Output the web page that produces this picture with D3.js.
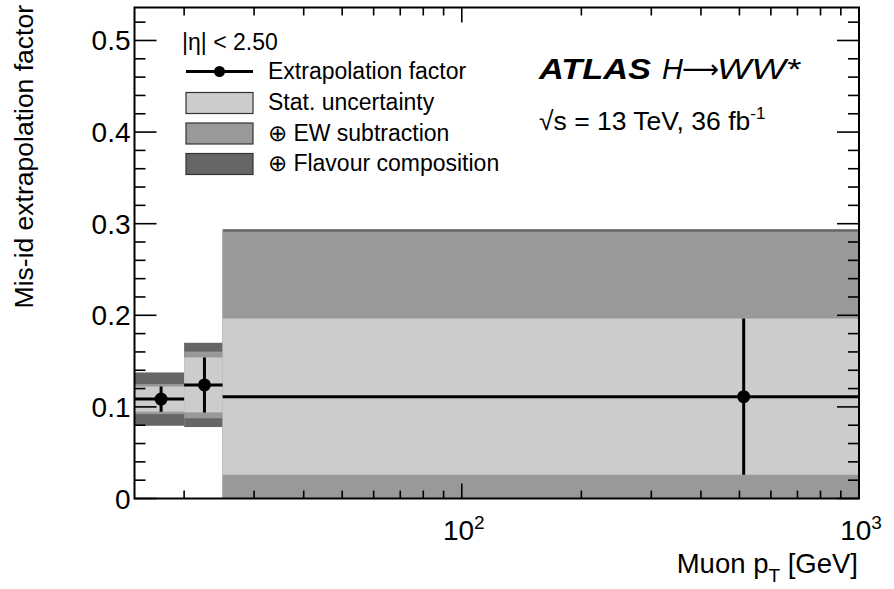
<!DOCTYPE html>
<html><head><meta charset="utf-8">
<script src="https://cdn.jsdelivr.net/npm/d3@7"></script>
<style>body{margin:0;background:#fff} text{font-family:"Liberation Sans",Arial,Helvetica,sans-serif;fill:#000}</style>
</head><body><svg id="c" width="894" height="589"></svg>
<script>
// ---- data ----
const binEdges = [15, 20, 25, 1000];
const binCenters = [17.5, 22.5, 512.5];
const factor = [0.1085, 0.124, 0.1112];
const statErr = [0.0137, 0.030, 0.0853];
const ewErr = [0.0164, 0.0364, 0.180];
const flavErr = [0.0291, 0.046, 0.1828];
const yTicks = [0, 0.1, 0.2, 0.3, 0.4, 0.5];
const xMajor = [100, 1000];
const xTickExp = ["2", "3"];
const legendLabels = ["Extrapolation factor", "Stat. uncertainty", "\u2295 EW subtraction", "\u2295 Flavour composition"];
const colors = {stat: "#cccccc", ew: "#999999", flav: "#666666"};

const L = 134.5, R = 859, T = 7.5, B = 498.5;
const svg = d3.select("#c");
const x = d3.scaleLog().domain([15, 1000]).range([L, R]);
const y = d3.scaleLinear().domain([0, 0.536]).range([B, T]);

svg.append("defs").append("clipPath").attr("id", "pc")
  .append("rect").attr("x", L).attr("y", T).attr("width", R - L).attr("height", B - T);
const g = svg.append("g").attr("clip-path", "url(#pc)");

const bins = factor.map((f, i) => ({i, lo: binEdges[i], hi: binEdges[i + 1], c: binCenters[i], f,
  s: statErr[i], e: ewErr[i], fl: flavErr[i]}));

[["fl", colors.flav], ["e", colors.ew], ["s", colors.stat]].forEach(([k, col]) => {
  g.selectAll(null).data(bins).enter().append("rect")
    .attr("x", d => x(d.lo)).attr("width", d => x(d.hi) - x(d.lo))
    .attr("y", d => y(d.f + d[k])).attr("height", d => y(d.f - d[k]) - y(d.f + d[k]))
    .attr("fill", col);
});

// error bars
g.selectAll(null).data(bins).enter().append("line")
  .attr("x1", d => x(d.lo)).attr("x2", d => x(d.hi))
  .attr("y1", d => y(d.f)).attr("y2", d => y(d.f))
  .attr("stroke", "#000").attr("stroke-width", 3);
g.selectAll(null).data(bins).enter().append("line")
  .attr("x1", d => x(d.c)).attr("x2", d => x(d.c))
  .attr("y1", d => y(d.f + d.s)).attr("y2", d => y(d.f - d.s))
  .attr("stroke", "#000").attr("stroke-width", 3);
g.selectAll(null).data(bins).enter().append("circle")
  .attr("cx", d => x(d.c)).attr("cy", d => y(d.f)).attr("r", 6.5).attr("fill", "#000");

// ticks
const ax = svg.append("g").attr("stroke", "#000").attr("stroke-width", 1.6);
const yMinor = d3.range(0, 0.536, 0.02).filter(v => Math.abs(v * 10 - Math.round(v * 10)) > 1e-6);
yTicks.forEach(v => {
  ax.append("line").attr("x1", L).attr("x2", L + 22).attr("y1", y(v)).attr("y2", y(v));
  ax.append("line").attr("x1", R).attr("x2", R - 22).attr("y1", y(v)).attr("y2", y(v));
});
yMinor.forEach(v => {
  ax.append("line").attr("x1", L).attr("x2", L + 11).attr("y1", y(v)).attr("y2", y(v));
  ax.append("line").attr("x1", R).attr("x2", R - 11).attr("y1", y(v)).attr("y2", y(v));
});
const xMinor = d3.range(20, 100, 10).concat(d3.range(200, 1000, 100));
xMinor.forEach(v => {
  ax.append("line").attr("x1", x(v)).attr("x2", x(v)).attr("y1", B).attr("y2", B - 8);
  ax.append("line").attr("x1", x(v)).attr("x2", x(v)).attr("y1", T).attr("y2", T + 8);
});
xMajor.forEach(v => {
  ax.append("line").attr("x1", x(v)).attr("x2", x(v)).attr("y1", B).attr("y2", B - 15);
  ax.append("line").attr("x1", x(v)).attr("x2", x(v)).attr("y1", T).attr("y2", T + 15);
});
svg.append("rect").attr("x", L).attr("y", T).attr("width", R - L).attr("height", B - T)
  .attr("fill", "none").attr("stroke", "#000").attr("stroke-width", 2);

// tick labels
svg.selectAll(null).data(yTicks).enter().append("text")
  .attr("x", L - 4).attr("y", d => y(d) + 10).attr("text-anchor", "end")
  .attr("font-size", 28).text(d => d === 0 ? "0" : d3.format(".1f")(d));
xMajor.forEach((v, i) => {
  const t = svg.append("text").attr("x", x(v) + 2).attr("y", 540).attr("text-anchor", "middle").attr("font-size", 28);
  t.append("tspan").text("10");
  t.append("tspan").attr("dy", -11).attr("font-size", 19).text(xTickExp[i]);
});

// axis titles
const xt = svg.append("text").attr("x", R - 1).attr("y", 573).attr("text-anchor", "end").attr("font-size", 27.5);
xt.append("tspan").text("Muon p");
xt.append("tspan").attr("dy", 9).attr("font-size", 19).text("T");
xt.append("tspan").attr("dy", -9).text(" [GeV]");
svg.append("text").attr("transform", "translate(33,5) rotate(-90)").attr("text-anchor", "end")
  .attr("font-size", 26.5).text("Mis-id extrapolation factor");

// legend
svg.append("text").attr("x", 182).attr("y", 50).attr("font-size", 23).text("|\u03B7| < 2.50");
const lg = svg.append("g");
lg.append("line").attr("x1", 186).attr("x2", 253).attr("y1", 71.5).attr("y2", 71.5).attr("stroke", "#000").attr("stroke-width", 3);
lg.append("circle").attr("cx", 219.5).attr("cy", 71.5).attr("r", 5.5).attr("fill", "#000");
[colors.stat, colors.ew, colors.flav].forEach((c, i) => {
  lg.append("rect").attr("x", 186).attr("y", 92.5 + i * 30.5).attr("width", 67).attr("height", 21)
    .attr("fill", c).attr("stroke", "#333").attr("stroke-width", 1.2);
});
legendLabels.forEach((t, i) => {
  lg.append("text").attr("x", 268).attr("y", 79 + i * 30.8).attr("font-size", 23).text(t);
});

// ATLAS label
svg.append("text").attr("x", 539).attr("y", 78.5).attr("font-size", 30).attr("font-weight", "bold")
  .attr("font-style", "italic").attr("textLength", 112).attr("lengthAdjust", "spacingAndGlyphs").text("ATLAS");
svg.append("text").attr("x", 662).attr("y", 78.5).attr("font-size", 29)
  .attr("font-style", "italic").text("H");
svg.append("text").attr("x", 682).attr("y", 78).attr("font-size", 26)
  .style("font-family", "'DejaVu Sans'")
  .attr("textLength", 37).attr("lengthAdjust", "spacingAndGlyphs").text("\u27F6");
svg.append("text").attr("x", 717).attr("y", 78.5).attr("font-size", 29)
  .attr("font-style", "italic").attr("textLength", 83).attr("lengthAdjust", "spacingAndGlyphs").text("WW*");
const en = svg.append("text").attr("x", 539).attr("y", 129.5).attr("font-size", 26.5);
en.append("tspan").text("\u221As = 13 TeV, 36 fb");
en.append("tspan").attr("dy", -11).attr("font-size", 17).text("-1");
</script></body></html>
